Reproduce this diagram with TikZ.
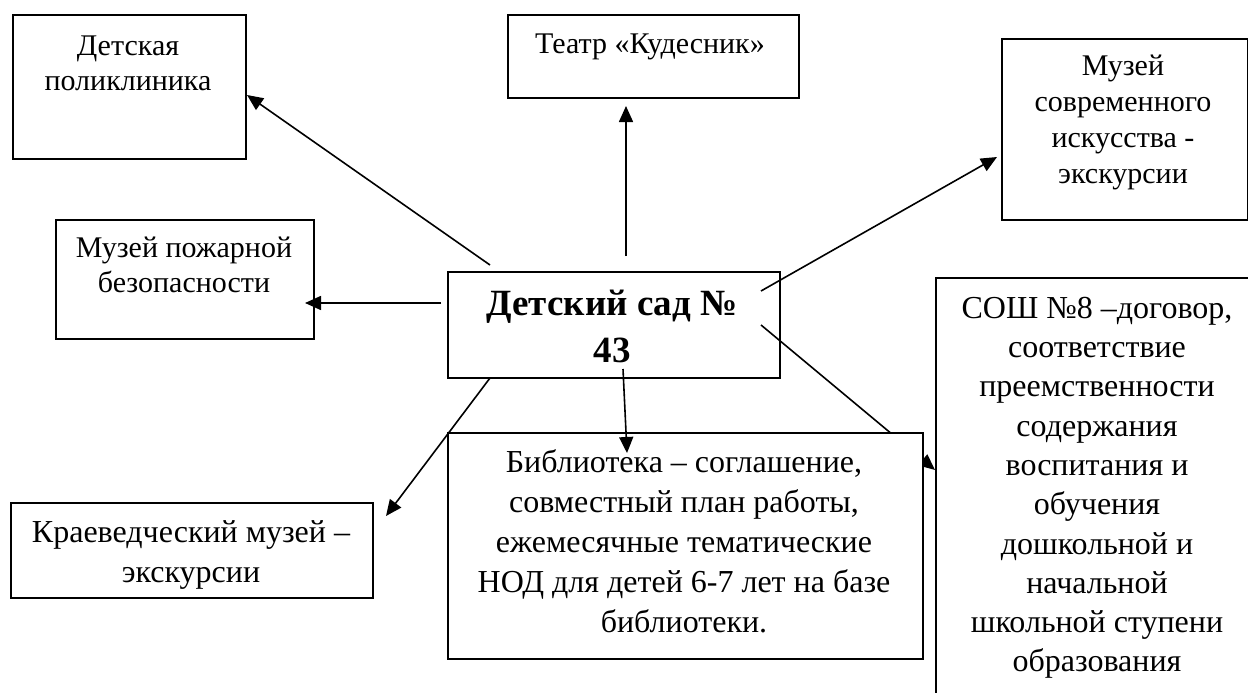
\documentclass[tikz,border=0pt]{standalone}
\usepackage{fontspec}
\setmainfont{Liberation Serif}
\usetikzlibrary{arrows.meta}
\begin{document}
\begin{tikzpicture}[x=1pt,y=-1pt,
  box/.style={draw, line width=1.8pt, fill=white, inner sep=0pt, anchor=north west},
  txt/.style={inner sep=0pt, anchor=north, align=center},
  rg/.style={font=\fontsize{30}{35}\selectfont},
  lg/.style={font=\fontsize{32}{40}\selectfont},
  arr/.style={line width=1.6pt, -{Triangle[length=16pt,width=14pt]}}]
\useasboundingbox (0,0) rectangle (1248,693);
\clip (0,0) rectangle (1248,693);

% boxes
\node[box, minimum width=233pt, minimum height=144pt] (poly) at (12,14) {};
\node[txt, rg] (tpoly) at (128,30.5) {\strut Детская\\поликлиника};

\node[box, minimum width=291pt, minimum height=83pt] (teatr) at (507,14) {};
\node[txt, rg] (tteatr) at (650,28.5) {\strut Театр «Кудесник»};

\node[box, minimum width=246pt, minimum height=181pt] (mod) at (1001,38) {};
\node[txt, font=\fontsize{30}{36}\selectfont] (tmod) at (1123,49.8) {\strut Музей\\современного\\искусства -\\экскурсии};

\node[box, minimum width=258pt, minimum height=119pt] (fire) at (55,219) {};
\node[txt, rg] (tfire) at (184,232.5) {\strut Музей пожарной\\безопасности};

\node[box, minimum width=332pt, minimum height=106pt] (sad) at (447,271) {};
\node[txt, font=\fontsize{37}{47}\selectfont\bfseries] (tsad) at (612,282.1) {\strut Детский сад №\\43};

\node[box, minimum width=362pt, minimum height=95pt] (kray) at (10,502) {};
\node[txt, lg] (tkray) at (191,514) {\strut Краеведческий музей –\\экскурсии};

\node[box, minimum width=330pt, minimum height=430pt] (sosh) at (935,277) {};
\node[txt, font=\fontsize{32}{39.3}\selectfont] (tsosh) at (1097,290.5) {\strut СОШ №8 –договор,\\соответствие\\преемственности\\содержания\\воспитания и\\обучения\\дошкольной и\\начальной\\школьной ступени\\образования};

% connector end points
\coordinate (pA) at (490,265);  \coordinate (pB) at (247,95);
\coordinate (tA) at (626,256);  \coordinate (tB) at (626,106);
\coordinate (mA) at (761,291);  \coordinate (mB) at (997,157);
\coordinate (fA) at (441,303);  \coordinate (fB) at (305,303);
\coordinate (kA) at (490,378);  \coordinate (kB) at (386,516);
\coordinate (lA) at (623,369);  \coordinate (lB) at (627,453);
\coordinate (sA) at (761,325);  \coordinate (sB) at (935,470);

\draw[arr] (pA) -- (pB);
\draw[arr] (tA) -- (tB);
\draw[arr] (mA) -- (mB);
\draw[arr] (fA) -- (fB);
\draw[arr] (kA) -- (kB);
\draw[arr] (sA) -- (sB);

% library box drawn over the hidden part of the school connector
\node[box, minimum width=475pt, minimum height=226pt] (lib) at (447,432) {};
\node[txt, lg] (tlib) at (684,444) {\strut Библиотека – соглашение,\\совместный план работы,\\ежемесячные тематические\\НОД для детей 6-7 лет на базе\\библиотеки.};

\draw[arr] (lA) -- (lB);
\end{tikzpicture}
\end{document}
